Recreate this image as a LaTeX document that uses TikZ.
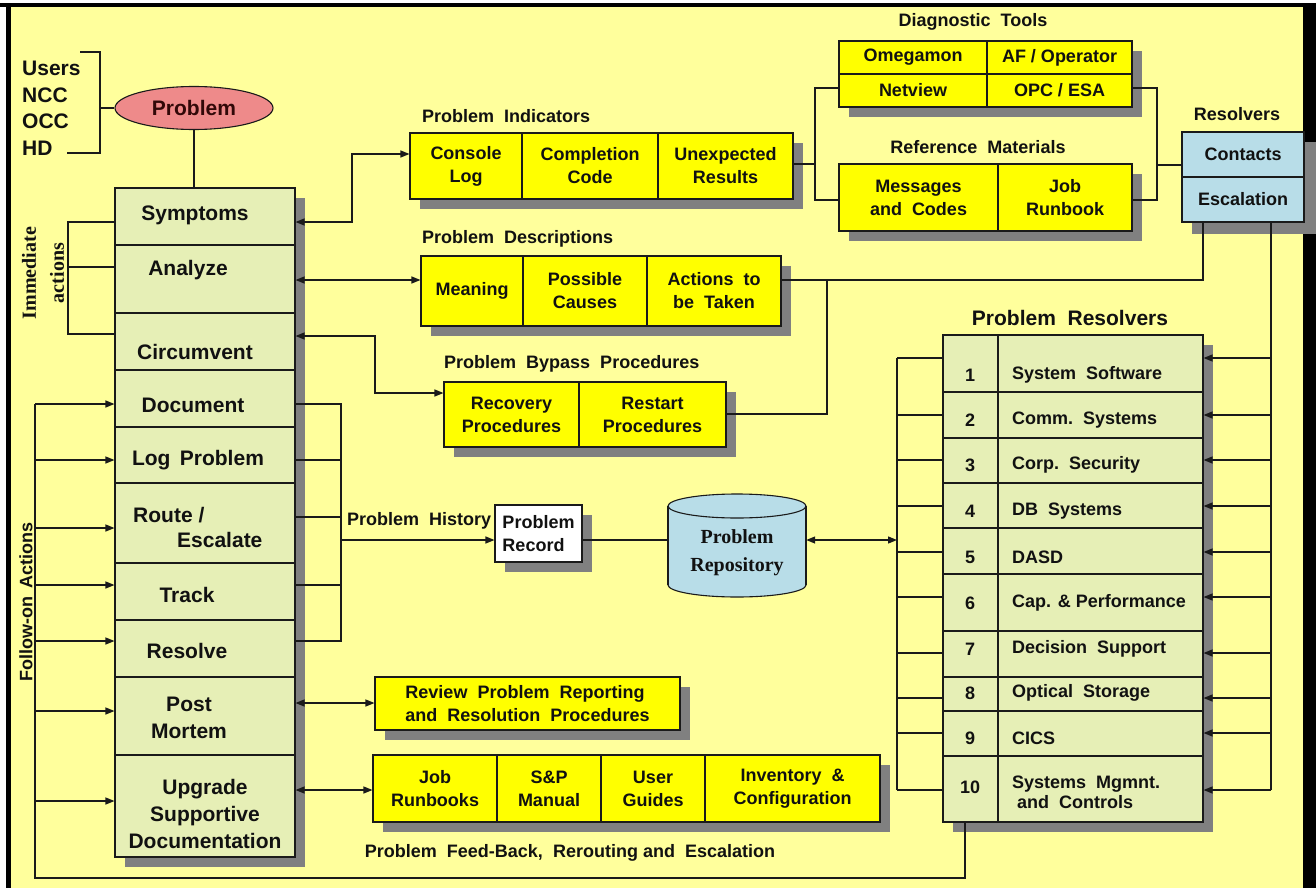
\documentclass[tikz,border=0pt]{standalone}
\usepackage{fontspec}
\setmainfont{Liberation Sans}
\newfontfamily\serifface{Liberation Serif}
\usetikzlibrary{arrows.meta,shapes.geometric}

\definecolor{bgyellow}{HTML}{FFFF9C}
\definecolor{cellgreen}{HTML}{E6EFB6}
\definecolor{cellyellow}{HTML}{FFFF00}
\definecolor{cellblue}{HTML}{B8DDE8}
\definecolor{pinkfill}{HTML}{EE8A8A}
\definecolor{shadowgray}{HTML}{808080}
\definecolor{linecol}{HTML}{1A1A1A}
\definecolor{txtcol}{HTML}{111111}

% fonts
\newcommand\fcol{\fontsize{21}{27}\selectfont\bfseries}
\newcommand\flbl{\fontsize{18}{23}\selectfont\bfseries}
\newcommand\fhd{\fontsize{18}{20}\selectfont\bfseries}
\newcommand\fres{\fontsize{18}{20}\selectfont\bfseries}

% a rectangular cell given by its corners
\newcommand\boxcell[7]{%
  \pgfmathsetmacro\bcX{(#3+#5)/2}\pgfmathsetmacro\bcY{(#4+#6)/2}%
  \pgfmathsetmacro\bcW{#5-#3}\pgfmathsetmacro\bcH{#6-#4}%
  \node[#1, minimum width=\bcW pt, minimum height=\bcH pt] (#2) at (\bcX,\bcY) {#7};}

\begin{document}
\begin{tikzpicture}[x=1pt,y=-1pt,
  conn/.style={draw=linecol, line width=1.3pt},
  arr/.style={conn,-{Triangle[length=9pt,width=7pt]}},
  darr/.style={conn,{Triangle[length=9pt,width=7pt]}-{Triangle[length=9pt,width=7pt]}},
  cell/.style={draw=linecol, line width=1.1pt, inner sep=0pt, align=center, text=txtcol, font=\flbl},
  gcell/.style={cell, fill=cellgreen},
  ycell/.style={cell, fill=cellyellow},
  bcell/.style={cell, fill=cellblue},
  wcell/.style={cell, fill=white, align=left},
  coltext/.style={inner sep=0pt, text=txtcol, font=\fcol, align=center},
  hd/.style={inner sep=0pt, text=txtcol, font=\fhd},
  restext/.style={inner sep=0pt, text=txtcol, font=\fres, align=left},
  shade/.style={fill=shadowgray}
]
\useasboundingbox (0,0) rectangle (1316,888);

% page and frame
\fill[white] (0,0) rectangle (1316,888);
\fill[bgyellow] (8,5) rectangle (1303,888);
\fill[black] (0,3) rectangle (1316,7);
\fill[black] (6,3) rectangle (11,888);
\fill[black] (1303,3) rectangle (1316,888);

% ---------- sources of problems ----------
\node[inner sep=0pt, anchor=west, font=\fcol, text=txtcol] (u1) at (22,68) {Users};
\node[inner sep=0pt, anchor=west, font=\fcol, text=txtcol] (u2) at (22,95) {NCC};
\node[inner sep=0pt, anchor=west, font=\fcol, text=txtcol] (u3) at (22,121) {OCC};
\node[inner sep=0pt, anchor=west, font=\fcol, text=txtcol] (u4) at (22,148) {HD};
\coordinate (ubr) at (100,108);
\node[ellipse, draw=linecol, line width=1.1pt, fill=pinkfill, minimum width=158pt,
      minimum height=43pt, inner sep=0pt, font=\fcol, text={rgb,255:red,50;green,8;blue,8}] (prob) at (194,108) {Problem};

% ---------- left column of actions ----------
\fill[shade] (125,198) rectangle (305,867);
\boxcell{gcell}{sym}{115}{188}{295}{245}{}
\boxcell{gcell}{ana}{115}{245}{295}{313}{}
\boxcell{gcell}{cir}{115}{313}{295}{370}{}
\boxcell{gcell}{doc}{115}{370}{295}{427}{}
\boxcell{gcell}{logp}{115}{427}{295}{483}{}
\boxcell{gcell}{route}{115}{483}{295}{563}{}
\boxcell{gcell}{track}{115}{563}{295}{620}{}
\boxcell{gcell}{res}{115}{620}{295}{677}{}
\boxcell{gcell}{post}{115}{677}{295}{755}{}
\boxcell{gcell}{upg}{115}{755}{295}{857}{}
\node[coltext] (tsym) at (195,215) {Symptoms};
\node[coltext] (tana) at (188,270) {Analyze};
\node[coltext] (tcir) at (195,352) {Circumvent};
\node[coltext] (tdoc) at (193,405) {Document};
\node[coltext] (tlog) at (198,460) {Log\, Problem};
\node[coltext, anchor=west] (troute) at (133,515) {Route /};
\node[coltext, anchor=west] (tesc) at (177,540) {Escalate};
\node[coltext] (ttrack) at (187,595) {Track};
\node[coltext] (tres) at (187,651) {Resolve};
\node[coltext] (tpost) at (189,718) {Post\\Mortem};
\node[coltext] (tupg) at (205,814) {Upgrade\\Supportive\\Documentation};

\node[inner sep=0pt, rotate=90, font=\serifface\bfseries\fontsize{20}{22}\selectfont, text=txtcol] (imm1) at (29,273) {Immediate};
\node[inner sep=0pt, rotate=90, font=\serifface\bfseries\fontsize{20}{22}\selectfont, text=txtcol] (imm2) at (57,273) {actions};
\node[inner sep=0pt, rotate=90, font=\fontsize{18}{20}\selectfont\bfseries, text=txtcol] (fol) at (26,602) {Follow-on\, Actions};

% ---------- problem indicators ----------
\node[hd, anchor=west] (hpi) at (422,116) {Problem\ \ Indicators};
\fill[shade] (420,143) rectangle (803,209);
\boxcell{ycell}{pi1}{410}{133}{522}{199}{Console\\Log}
\boxcell{ycell}{pi2}{522}{133}{658}{199}{Completion\\Code}
\boxcell{ycell}{pi3}{658}{133}{793}{199}{Unexpected\\Results}

% ---------- diagnostic tools ----------
\node[hd] (hdt) at (973,22) {Diagnostic\ \ Tools};
\fill[shade] (849,51) rectangle (1142,117);
\boxcell{ycell}{dt1}{839}{41}{987}{74}{Omegamon}
\boxcell{ycell}{dt2}{987}{41}{1132}{74}{AF / Operator}
\boxcell{ycell}{dt3}{839}{74}{987}{107}{Netview}
\boxcell{ycell}{dt4}{987}{74}{1132}{107}{OPC / ESA}

% ---------- reference materials ----------
\node[hd] (hrm) at (978,147) {Reference\ \ Materials};
\fill[shade] (849,174) rectangle (1142,241);
\boxcell{ycell}{rm1}{839}{164}{998}{231}{Messages\\and\ \ Codes}
\boxcell{ycell}{rm2}{998}{164}{1132}{231}{Job\\Runbook}

% ---------- resolvers ----------
\node[hd] (hrv) at (1237,114) {Resolvers};
\fill[shade] (1192,142) rectangle (1316,234);
\boxcell{bcell}{rv1}{1182}{132}{1304}{177}{Contacts}
\boxcell{bcell}{rv2}{1182}{177}{1304}{222}{Escalation}

% ---------- problem descriptions ----------
\node[hd, anchor=west] (hpd) at (422,239) {Problem\ \ Descriptions};
\fill[shade] (431,266) rectangle (791,336);
\boxcell{ycell}{pd1}{421}{256}{523}{326}{Meaning}
\boxcell{ycell}{pd2}{523}{256}{647}{326}{Possible\\Causes}
\boxcell{ycell}{pd3}{647}{256}{781}{326}{Actions\ \ to\\be\ \ Taken}

% ---------- bypass procedures ----------
\node[hd, anchor=west] (hbp) at (444,364) {Problem\ \ Bypass\ \ Procedures};
\fill[shade] (454,392) rectangle (736,457);
\boxcell{ycell}{bp1}{444}{382}{579}{447}{Recovery\\Procedures}
\boxcell{ycell}{bp2}{579}{382}{726}{447}{Restart\\Procedures}

% ---------- problem history, record and repository ----------
\node[hd, anchor=west] (hph) at (347,521) {Problem\ \ History};
\fill[shade] (505,515) rectangle (592,572);
\boxcell{wcell}{prec}{495}{505}{582}{562}{Problem\\Record}

\node[minimum width=138pt, minimum height=104pt, inner sep=0pt] (repo) at (737,545) {};
\filldraw[fill=cellblue, draw=linecol, line width=1.1pt] (737,585) ellipse [x radius=69, y radius=12];
\fill[cellblue] (668,506) rectangle (806,585);
\draw[linecol, line width=1.1pt] (668,506) -- (668,585) (806,506) -- (806,585);
\filldraw[fill=cellblue, draw=linecol, line width=1.1pt] (737,506) ellipse [x radius=69, y radius=12];
\node[inner sep=0pt, align=center, text=txtcol, font=\serifface\bfseries\fontsize{20}{28}\selectfont] (trepo) at (737,553) {Problem\\Repository};

% ---------- review and documentation ----------
\fill[shade] (385,687) rectangle (690,740);
\boxcell{ycell, align=left}{rev}{375}{677}{680}{730}{Review\ \ Problem\ \ Reporting\\and\ \ Resolution\ \ Procedures}
\fill[shade] (383,765) rectangle (890,832);
\boxcell{ycell}{sd1}{373}{755}{497}{822}{Job\\Runbooks}
\boxcell{ycell}{sd2}{497}{755}{601}{822}{S\&P\\Manual}
\boxcell{ycell}{sd3}{601}{755}{705}{822}{User\\Guides}
\boxcell{ycell}{sd4}{705}{755}{880}{822}{Inventory\ \ \&\\Configuration}
\node[hd] (hfb) at (570,853) {Problem\ \ Feed-Back,\ \ Rerouting and\ \ Escalation};

% ---------- problem resolvers ----------
\node[inner sep=0pt, text=txtcol, font=\fontsize{21}{23}\selectfont\bfseries] (hpr) at (1070,318) {Problem\ \ Resolvers};
\fill[shade] (953,345) rectangle (1213,832);
\foreach \i/\ya/\yb in {1/335/392, 2/392/438, 3/438/483, 4/483/528, 5/528/574,
                        6/574/631, 7/631/677, 8/677/711, 9/711/756, 10/756/822} {
  \boxcell{gcell}{n\i}{943}{\ya}{998}{\yb}{}
  \boxcell{gcell}{t\i}{998}{\ya}{1203}{\yb}{}
}
\foreach \i/\ty/\lab in {1/375/System\ \ Software, 2/420/Comm.\ \ Systems, 3/465/Corp.\ \ Security,
                         4/511/DB\ \ Systems, 5/557/DASD, 6/603/Cap. \& Performance,
                         7/649/Decision\ \ Support, 8/693/Optical\ \ Storage, 9/738/CICS} {
  \node[restext] (num\i) at (970,\ty) {\i};
  \node[restext, anchor=west] (lab\i) at (1012,\ty) {\lab};
}
\node[restext] (num10) at (970,787) {10};
\node[restext, anchor=north west] (lab10) at (1012,776) {Systems\ \ Mgmnt.\\\ and\ \ Controls};

% ---------- connectors ----------
% sources to problem, problem to symptoms
\draw[conn] (80,52) -- (100,52) -- (100,153) -- (67,153);
\draw[conn] (ubr) -- (prob.west);
\draw[conn] (prob.south) -- (prob.south |- sym.north);

% immediate actions bracket
\draw[conn] (sym.west |- 0,222) -- (68,222) -- (68,334) -- (cir.west |- 0,334);
\draw[conn] (68,267) -- (ana.west |- 0,267);

% symptoms, analyze, circumvent links
\draw[darr] (sym.east |- 0,222) -- (352,222) -- (352,154) -- (pi1.west |- 0,154);
\draw[darr] (ana.east |- 0,280) -- (pd1.west |- 0,280);
\draw[darr] (cir.east |- 0,336) -- (375,336) -- (375,393) -- (bp1.west |- 0,393);

% indicators to diagnostic tools and reference materials
\draw[conn] (pi3.east |- 0,164) -- (815,164);
\draw[conn] (dt3.west |- 0,88) -- (815,88) -- (815,200) -- (rm1.west |- 0,200);
\draw[conn] (dt4.east |- 0,88) -- (1157,88) -- (1157,200) -- (rm2.east |- 0,200);
\draw[conn] (1157,165) -- (rv1.west |- 0,165);

% descriptions and bypass to resolvers
\draw[conn] (pd3.east |- 0,280) -- (1203,280) -- (rv2.south -| 1203,0);
\draw[conn] (827,280) -- (827,414) -- (bp2.east |- 0,414);

% escalation to problem resolvers
\draw[conn] (rv2.south -| 1271,0) -- (1271,790);
\foreach \i/\y in {1/358, 2/415, 3/460, 4/506, 5/552, 6/597, 7/653, 8/698, 9/733, 10/790}
  \draw[arr] (1271,\y) -- (t\i.east |- 0,\y);

% problem resolvers fan on the left
\draw[conn] (897,358) -- (897,790);
\foreach \i/\y in {1/358, 2/415, 3/460, 4/506, 5/552, 6/597, 7/653, 8/698, 9/733, 10/790}
  \draw[conn] (897,\y) -- (n\i.west |- 0,\y);

% problem history
\draw[conn] (doc.east |- 0,404) -- (341,404) -- (341,641) -- (res.east |- 0,641);
\draw[conn] (logp.east |- 0,460) -- (341,460);
\draw[conn] (route.east |- 0,517) -- (341,517);
\draw[conn] (track.east |- 0,585) -- (341,585);
\draw[arr] (341,540) -- (prec.west |- 0,540);
\draw[conn] (prec.east |- 0,540) -- (repo.west |- 0,540);
\draw[darr] (repo.east |- 0,540) -- (897,540);

% post mortem and documentation
\draw[darr] (post.east |- 0,703) -- (rev.west |- 0,703);
\draw[darr] (upg.east |- 0,790) -- (sd1.west |- 0,790);

% feed-back loop into the follow-on actions
\draw[conn] (n10.south -| 965,0) -- (965,878) -- (35,878) -- (35,404);
\draw[arr] (35,404) -- (doc.west |- 0,404);
\draw[arr] (35,460) -- (logp.west |- 0,460);
\draw[arr] (35,528) -- (route.west |- 0,528);
\draw[arr] (35,585) -- (track.west |- 0,585);
\draw[arr] (35,641) -- (res.west |- 0,641);
\draw[arr] (35,711) -- (post.west |- 0,711);
\draw[arr] (35,801) -- (upg.west |- 0,801);
\end{tikzpicture}
\end{document}
